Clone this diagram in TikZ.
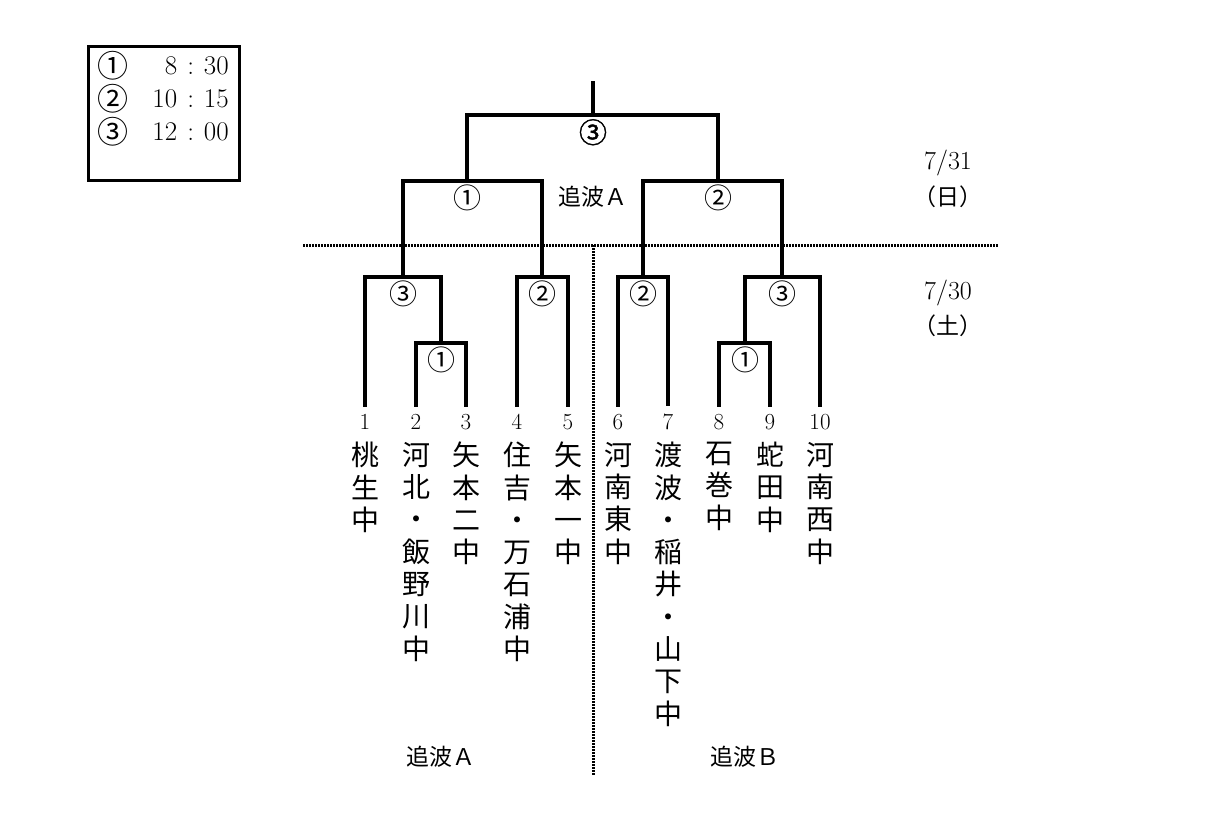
\documentclass[tikz,border=0pt]{standalone}
\usepackage{fontspec}
\newfontfamily\cjk{Noto Sans CJK JP}
\newfontfamily\cjkbold{Noto Sans CJK JP}[FakeBold=1.5]
\usetikzlibrary{positioning}

\newcommand{\tm}[2]{#1\hspace{10pt}:\hspace{10pt}#2}

\begin{document}
\begin{tikzpicture}[x=1pt,y=-1pt,
    bracket/.style={line width=3.2pt},
    sep/.style={line width=3pt, dash pattern=on 2pt off 1pt},
    game/.style={font=\cjk\fontsize{28}{28}\selectfont, inner sep=0pt},
    num/.style={font=\fontsize{23}{23}\selectfont, inner xsep=1pt, inner ysep=7.5pt},
    school/.style={anchor=north, align=center, inner sep=0pt, font=\cjk\fontsize{28}{32.3}\selectfont},
    zone/.style={font=\cjk\fontsize{23}{23}\selectfont},
    date/.style={font=\fontsize{26}{26}\selectfont},
    legnum/.style={font=\cjk\fontsize{31}{31}\selectfont, inner sep=0pt},
    legtime/.style={font=\fontsize{27}{27}\selectfont, anchor=east, inner sep=0pt}]
    \useasboundingbox (0,0) rectangle (1206,834);

    % Legend
    \draw[line width=3pt] (88,47) rectangle (239,181);
    \foreach \i/\c/\t in {1/①/{\tm{8}{30}}, 2/②/{\tm{10}{15}}, 3/③/{\tm{12}{00}}} {
        \node[legnum] (lc\i) at (113,33*\i+33) {\c};
        \node[legtime] (lt\i) at (229,33*\i+33) {\t};
    }

    % Teams
    \foreach \i/\x in {1/365, 2/416, 3/466, 4/517, 5/568, 6/618, 7/668, 8/719, 9/770, 10/820}
        \node[num] (t\i) at (\x,422) {\i};
    \foreach \i/\name in {1/{桃\\生\\中}, 2/{河\\北\\・\\飯\\野\\川\\中}, 3/{矢\\本\\二\\中},
                          4/{住\\吉\\・\\万\\石\\浦\\中}, 5/{矢\\本\\一\\中}, 6/{河\\南\\東\\中},
                          7/{渡\\波\\・\\稲\\井\\・\\山\\下\\中}, 8/{石\\巻\\中}, 9/{蛇\\田\\中},
                          10/{河\\南\\西\\中}}
        \node[school] (n\i) at (t\i |- 0,442) {\name};

    % Junctions
    \coordinate (k1) at (441,343);
    \coordinate (k2) at (745,343);
    \coordinate (r1) at (403,277);
    \coordinate (r2) at (542,277);
    \coordinate (r3) at (643,277);
    \coordinate (r4) at (782,277);
    \coordinate (s1) at (467,181);
    \coordinate (s2) at (718,181);
    \coordinate (f) at (593,115);
    \coordinate (top) at (593,81);

    % Bracket
    \draw[bracket] (t2.north) |- (k1) -| (t3.north);
    \draw[bracket] (t1.north) |- (r1) -| (k1);
    \draw[bracket] (t4.north) |- (r2) -| (t5.north);
    \draw[bracket] (t6.north) |- (r3) -| (t7.north);
    \draw[bracket] (t8.north) |- (k2) -| (t9.north);
    \draw[bracket] (k2) |- (r4) -| (t10.north);
    \draw[bracket] (r1) |- (s1) -| (r2);
    \draw[bracket] (r3) |- (s2) -| (r4);
    \draw[bracket] (s1) |- (f) -| (s2);
    \draw[bracket] (f) -- (top);

    % Game numbers
    \node[game, below=4pt of k1] (g1) {①};
    \node[game, below=4pt of k2] (g2) {①};
    \node[game, below=4pt of r1] (g3) {③};
    \node[game, below=4pt of r2] (g4) {②};
    \node[game, below=4pt of r3] (g5) {②};
    \node[game, below=4pt of r4] (g6) {③};
    \node[game, below=4pt of s1] (g7) {①};
    \node[game, below=4pt of s2] (g8) {②};
    \node[game, below=4pt of f, font=\cjkbold\fontsize{28}{28}\selectfont] (g9) {③};

    % Day separators
    \coordinate (hl) at (303,245);
    \coordinate (hr) at (998,245);
    \coordinate (vb) at (593,775);
    \draw[sep] (hl) -- (hr);
    \draw[sep] (f |- hl) -- (vb);

    % Zones and dates
    \node[zone] (zt) at (593,197) {追波Ａ};
    \node[zone] (za) at (441,757) {追波Ａ};
    \node[zone] (zb) at (745,757) {追波Ｂ};
    \node[date] (d1) at (948,163) {7/31};
    \node[date, font=\cjk\fontsize{23}{23}\selectfont] (w1) at (948,197) {（日）};
    \node[date] (d2) at (948,293) {7/30};
    \node[date, font=\cjk\fontsize{23}{23}\selectfont] (w2) at (948,326) {（土）};
\end{tikzpicture}
\end{document}
